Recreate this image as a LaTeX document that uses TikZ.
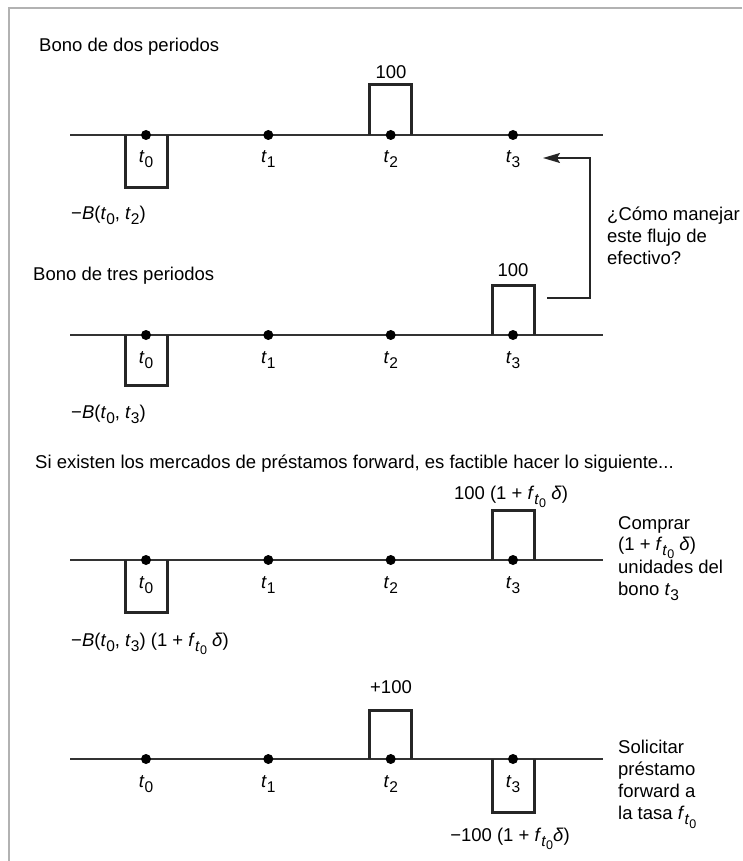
\documentclass[tikz,border=0pt]{standalone}
\usepackage{fontspec}
\setmainfont{Liberation Sans}
\usetikzlibrary{arrows.meta}
\newcommand\sba[1]{\raisebox{-5pt}{\fontsize{15.5}{15.5}\selectfont #1}}
\newcommand\sbb[1]{\raisebox{-3.5pt}{\fontsize{12.5}{12.5}\selectfont #1}}
\newcommand\fto{\textit{f}\sba{\textit{t}\sbb{0}}}
\begin{document}
\begin{tikzpicture}[x=1pt,y=-1pt,
  txt/.style={inner sep=0pt, font=\fontsize{18.5}{22}\selectfont, anchor=base west},
  ctxt/.style={txt, anchor=base},
  tline/.style={line width=1.5pt, draw=black!80},
  flow/.style={line width=3pt, draw=black!85, line join=miter},
  dotn/.style={circle, fill=black, inner sep=0pt, minimum size=10pt},
  conn/.style={line width=1.5pt, draw=black!85, -{Stealth[length=17pt,width=10pt,inset=3pt]}},
  frame/.style={line width=2.5pt, draw=black!30}]
\useasboundingbox (0,0) rectangle (742,861);
\coordinate (fa) at (9,861);
\coordinate (fb) at (9,8);
\coordinate (fc) at (742,8);
\draw[frame] (fa) -- (fb) -- (fc);

% ---------- timeline 1
\node[txt] (h1) at (39,52) {Bono de dos periodos};
\coordinate (L1s) at (70,135); \coordinate (L1e) at (603,135);
\draw[tline] (L1s) -- (L1e);
\foreach \i/\x in {0/146,1/268.3,2/390.7,3/513}{
  \coordinate (a\i) at (\x,135);
  \node[ctxt] (la\i) at (\x,163) {\textit{t}\sba{\i}};
}
\draw[flow] ([xshift=-21pt]a0) -- ++(0,52) -- ++(42,0) -- ++(0,-52);
\draw[flow] ([xshift=-21pt]a2) -- ++(0,-50) -- ++(42,0) -- ++(0,50);
\foreach \i in {0,1,2,3}{ \node[dotn] (da\i) at (a\i) {}; }
\node[ctxt] (v1) at (391,78.5) {100};
\node[txt] (b1) at (71,219.5) {−\textit{B}(\textit{t}\sba{0}, \textit{t}\sba{2})};

% ---------- question
\node[txt] (q1) at (607,220) {¿Cómo manejar};
\node[txt] (q2) at (607,242) {este flujo de};
\node[txt] (q3) at (607,264) {efectivo?};

% ---------- timeline 2
\node[txt] (h2) at (33,280) {Bono de tres periodos};
\coordinate (L2s) at (70,335); \coordinate (L2e) at (603,335);
\draw[tline] (L2s) -- (L2e);
\foreach \i/\x in {0/146,1/268.3,2/390.7,3/513}{
  \coordinate (b\i) at (\x,335);
  \node[ctxt] (lb\i) at (\x,363) {\textit{t}\sba{\i}};
}
\draw[flow] ([xshift=-21pt]b0) -- ++(0,50) -- ++(42,0) -- ++(0,-50);
\draw[flow] ([xshift=-21pt]b3) -- ++(0,-50) -- ++(42,0) -- ++(0,50);
\foreach \i in {0,1,2,3}{ \node[dotn] (db\i) at (b\i) {}; }
\node[ctxt] (v2) at (513,276.5) {100};
\node[txt] (b2) at (71,418) {−\textit{B}(\textit{t}\sba{0}, \textit{t}\sba{3})};

% ---------- connector
\coordinate (cs) at (547,298);
\coordinate (ce) at (543,158);
\draw[conn] (cs) -- ++(43,0) |- (ce);

% ---------- timeline 3
\node[txt] (h3) at (35,468.5) {Si existen los mercados de préstamos forward, es factible hacer lo siguiente...};
\coordinate (L3s) at (70,560); \coordinate (L3e) at (603,560);
\draw[tline] (L3s) -- (L3e);
\foreach \i/\x in {0/146,1/268.3,2/390.7,3/513}{
  \coordinate (c\i) at (\x,560);
  \node[ctxt] (lc\i) at (\x,588) {\textit{t}\sba{\i}};
}
\draw[flow] ([xshift=-21pt]c0) -- ++(0,52) -- ++(42,0) -- ++(0,-52);
\draw[flow] ([xshift=-21pt]c3) -- ++(0,-50) -- ++(42,0) -- ++(0,50);
\foreach \i in {0,1,2,3}{ \node[dotn] (dc\i) at (c\i) {}; }
\node[ctxt] (v3) at (511,499) {100 (1 + \fto{} \textit{δ})};
\node[txt] (b3l) at (71,646) {−\textit{B}(\textit{t}\sba{0}, \textit{t}\sba{3}) (1 + \fto{} \textit{δ})};
\node[txt] (r1) at (618,529.5) {Comprar};
\node[txt] (r2) at (618,550) {(1 + \fto{} \textit{δ})};
\node[txt] (r3) at (618,573.5) {unidades del};
\node[txt] (r4) at (618,595) {bono \textit{t}\sba{3}};

% ---------- timeline 4
\coordinate (L4s) at (70,759); \coordinate (L4e) at (603,759);
\draw[tline] (L4s) -- (L4e);
\foreach \i/\x in {0/146,1/268.3,2/390.7,3/513}{
  \coordinate (d\i) at (\x,759);
  \node[ctxt] (ld\i) at (\x,787) {\textit{t}\sba{\i}};
}
\draw[flow] ([xshift=-21pt]d2) -- ++(0,-49) -- ++(42,0) -- ++(0,49);
\draw[flow] ([xshift=-21pt]d3) -- ++(0,53) -- ++(42,0) -- ++(0,-53);
\foreach \i in {0,1,2,3}{ \node[dotn] (dd\i) at (d\i) {}; }
\node[ctxt] (v4) at (391,693.5) {+100};
\node[ctxt] (b4) at (510,841) {−100 (1 + \fto\textit{δ})};
\node[txt] (s1) at (618,753.5) {Solicitar};
\node[txt] (s2) at (618,775.5) {préstamo};
\node[txt] (s3) at (618,797.5) {forward a};
\node[txt] (s4) at (618,819.5) {la tasa \fto};
\end{tikzpicture}
\end{document}
